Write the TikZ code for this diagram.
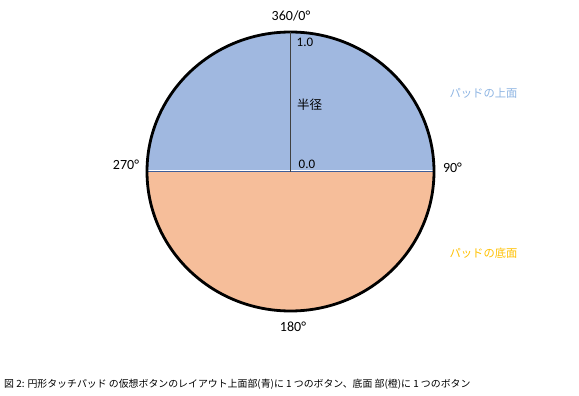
\documentclass[tikz,border=0pt]{standalone}
\usepackage{fontspec}
\setmainfont{Carlito}
\newfontfamily\jp{Noto Sans CJK JP}
\definecolor{padblue}{HTML}{A0B8E0}
\definecolor{padorange}{HTML}{F6BE9A}
\definecolor{divblue}{HTML}{3F5E98}
\definecolor{lblblue}{HTML}{8DB4E2}
\definecolor{lblorange}{HTML}{FFC000}
\begin{document}
\begin{tikzpicture}[x=1pt,y=-1pt,
  deg/.style={font=\fontsize{14}{16}\selectfont, inner sep=0pt},
  val/.style={font=\fontsize{13}{15}\selectfont, inner sep=0pt, anchor=west},
  side/.style={font=\jp\fontsize{11.3}{13}\selectfont, inner sep=0pt}]
\useasboundingbox (0,0) rectangle (579,396);
\coordinate (ctr) at (290.5,171.5);
\coordinate (top) at (290.5,32);
% fills
\begin{scope}
  \clip (ctr) ellipse [x radius=143.5, y radius=139.5];
  \fill[padblue] (140,20) rectangle (440,171);
  \fill[padorange] (140,171.5) rectangle (440,320);
  \draw[white, line width=0.8pt] (140,170.2) -- (440,170.2);
  \draw[divblue, line width=1pt] (140,171.3) -- (440,171.3);
\end{scope}
\draw[line width=2.8pt] (ctr) ellipse [x radius=143.5, y radius=139.5];
\draw[black!75, line width=0.8pt] (top) -- (ctr);
% labels
\node[deg] (l0) at (291,16) {360/0°};
\node[deg] (l270) at (126,164.5) {270°};
\node[deg] (l90) at (452.5,167.5) {90°};
\node[deg] (l180) at (293,326.5) {180°};
\node[val] (v1) at (296.5,42) {1.0};
\node[val] (v0) at (298.5,164.5) {0.0};
\node[anchor=west, inner sep=0pt, font=\jp\fontsize{12.5}{14}\selectfont] (rad) at (297,105) {半径};
\node[side, text=lblblue] (up) at (483.5,93) {パッドの上面};
\node[side, text=lblorange] (dn) at (483.5,253) {パッドの底面};
\node[anchor=west, inner sep=0pt, font=\jp\fontsize{9.9}{11}\selectfont] (cap) at (4,384.5) {図 2: 円形タッチパッド の仮想ボタンのレイアウト上面部(青)に 1 つのボタン、底面 部(橙)に 1 つのボタン};
\end{tikzpicture}
\end{document}
